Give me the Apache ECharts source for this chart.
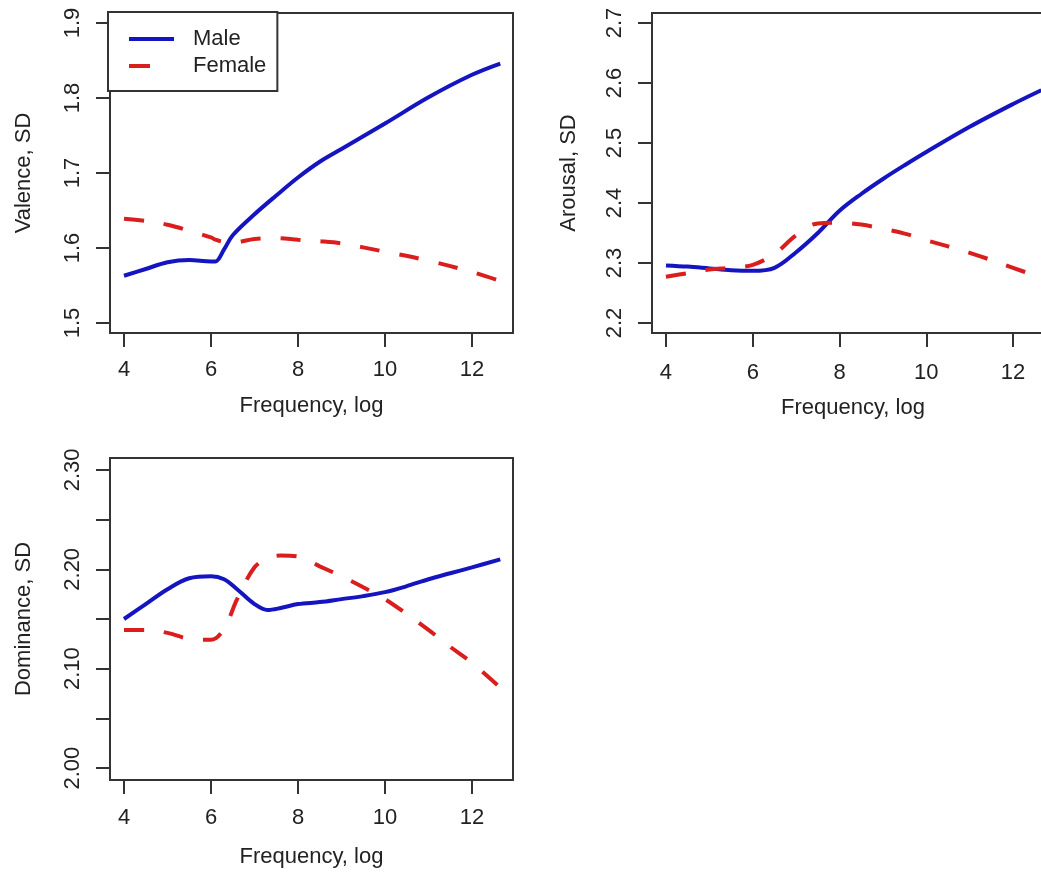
<!DOCTYPE html>
<html>
<head>
<meta charset="utf-8">
<script src="https://cdn.jsdelivr.net/npm/echarts@6/dist/echarts.min.js"></script>
<style>
  html, body { margin: 0; padding: 0; background: #fff; overflow: hidden; }
  #chart { width: 1041px; height: 875px; }
</style>
</head>
<body>
<div id="chart"></div>
<script>
// Log word frequency (shared x positions for each panel)
const valenceFreq = [4.0, 4.5, 5.0, 5.5, 6.0, 6.1, 6.3, 6.5, 7.0, 7.5, 8.0, 8.5, 9.0, 10.0, 11.0, 12.0, 12.65];
const valenceMale = [1.563, 1.572, 1.581, 1.584, 1.582, 1.582, 1.598, 1.617, 1.645, 1.670, 1.694, 1.715, 1.732, 1.766, 1.801, 1.831, 1.846];
const valenceFemale = [1.639, 1.636, 1.631, 1.623, 1.614, 1.611, 1.608, 1.607, 1.612, 1.613, 1.611, 1.609, 1.606, 1.595, 1.583, 1.568, 1.556];

const arousalFreq = [4.0, 4.5, 5.0, 5.5, 6.0, 6.5, 7.0, 7.5, 8.0, 8.5, 9.0, 9.5, 10.0, 11.0, 12.0, 12.65];
const arousalMale = [2.296, 2.294, 2.291, 2.288, 2.287, 2.292, 2.318, 2.350, 2.387, 2.415, 2.440, 2.463, 2.485, 2.527, 2.565, 2.588];
const arousalFemale = [2.277, 2.283, 2.289, 2.292, 2.297, 2.315, 2.346, 2.366, 2.367, 2.364, 2.357, 2.349, 2.338, 2.317, 2.292, 2.275];

const dominanceFreq = [4.0, 4.5, 5.0, 5.5, 6.0, 6.3, 6.6, 7.0, 7.3, 7.6, 8.0, 8.5, 9.0, 9.5, 10.0, 10.5, 11.0, 11.5, 12.0, 12.65];
const dominanceMale = [2.150, 2.165, 2.180, 2.191, 2.193, 2.190, 2.180, 2.165, 2.159, 2.161, 2.165, 2.167, 2.170, 2.173, 2.177, 2.183, 2.190, 2.196, 2.202, 2.210];
const dominanceFemale = [2.139, 2.139, 2.136, 2.130, 2.129, 2.140, 2.170, 2.202, 2.211, 2.214, 2.213, 2.203, 2.193, 2.182, 2.170, 2.155, 2.139, 2.122, 2.106, 2.081];

// Tick marks and labels
const freqTicks = [4, 6, 8, 10, 12];
const valenceTicks = [1.5, 1.6, 1.7, 1.8, 1.9];
const arousalTicks = [2.2, 2.3, 2.4, 2.5, 2.6, 2.7];
const dominanceTicks = [2.00, 2.05, 2.10, 2.15, 2.20, 2.25, 2.30];
const dominanceLabels = [2.00, 2.10, 2.20, 2.30];

const FONT = "'Liberation Sans', Arial, Helvetica, sans-serif";
const TEXT = '#222';
const FRAME = '#333';
const BLUE = '#1414c0';
const RED = '#da1d1d';

function pairs(xs, ys) { return xs.map((x, i) => [x, ys[i]]); }

function xAxis(gridIndex, labelMargin, nameGap) {
  return {
    type: 'value', gridIndex, min: 3.678, max: 12.943,
    name: 'Frequency, log', nameLocation: 'middle', nameGap,
    nameTextStyle: { fontFamily: FONT, fontSize: 22, lineHeight: 22, color: TEXT },
    axisLine: { show: false },
    axisTick: { show: true, inside: false, length: 14, lineStyle: { color: FRAME, width: 2 }, customValues: freqTicks },
    axisLabel: { show: true, margin: labelMargin, fontFamily: FONT, fontSize: 22, lineHeight: 22, color: TEXT, customValues: freqTicks },
    splitLine: { show: false }
  };
}

function yAxis(gridIndex, min, max, ticks, labels, digits, name, labelMargin, nameGap) {
  return {
    type: 'value', gridIndex, min, max,
    name, nameLocation: 'middle', nameGap, nameRotate: 90,
    nameTextStyle: { fontFamily: FONT, fontSize: 22, lineHeight: 22, color: TEXT },
    axisLine: { show: false },
    axisTick: { show: true, inside: false, length: 14, lineStyle: { color: FRAME, width: 2 }, customValues: ticks },
    axisLabel: {
      show: true, rotate: 90, margin: labelMargin, fontFamily: FONT, fontSize: 22, lineHeight: 22, color: TEXT,
      customValues: labels, formatter: v => Number(v).toFixed(digits)
    },
    splitLine: { show: false }
  };
}

function line(name, idx, data, color, dashed) {
  return {
    name, type: 'line', xAxisIndex: idx, yAxisIndex: idx,
    data, smooth: 0.35, symbol: 'none', clip: true,
    lineStyle: { color, width: 4, type: dashed ? [20, 20] : 'solid', cap: 'butt' },
    itemStyle: { color },
    emphasis: { disabled: true }
  };
}

const gridBase = { show: true, borderColor: FRAME, borderWidth: 2, backgroundColor: 'transparent', outerBoundsMode: 'none', containLabel: false };

const option = {
  backgroundColor: '#fff',
  animation: false,
  grid: [
    Object.assign({ left: 110, top: 13, width: 403, height: 320 }, gridBase),
    Object.assign({ left: 652, top: 13, width: 402, height: 320 }, gridBase),
    Object.assign({ left: 110, top: 458, width: 403, height: 322 }, gridBase)
  ],
  xAxis: [
    xAxis(0, 26, 62),
    xAxis(1, 29, 64),
    xAxis(2, 27, 66)
  ],
  yAxis: [
    yAxis(0, 1.4866, 1.9134, valenceTicks, valenceTicks, 1, 'Valence, SD', 26, 75),
    yAxis(1, 2.1833, 2.7167, arousalTicks, arousalTicks, 1, 'Arousal, SD', 26, 72),
    yAxis(2, 1.988, 2.312, dominanceTicks, dominanceLabels, 2, 'Dominance, SD', 26, 75)
  ],
  legend: {
    orient: 'vertical', left: 108, top: 12,
    padding: [16, 11, 14, 19], itemGap: 5, itemWidth: 45, itemHeight: 14,
    borderColor: FRAME, borderWidth: 2, borderRadius: 0, backgroundColor: '#fff',
    selectedMode: false,
    textStyle: { fontFamily: FONT, fontSize: 22, lineHeight: 22, color: TEXT, padding: [0, 0, 0, 14] },
    data: [
      { name: 'Male', itemStyle: { opacity: 0 }, lineStyle: { width: 4, color: BLUE } },
      { name: 'Female', itemStyle: { opacity: 0 }, lineStyle: { width: 4, color: RED, type: [21, 40] } }
    ]
  },
  series: [
    line('Male', 0, pairs(valenceFreq, valenceMale), BLUE, false),
    line('Female', 0, pairs(valenceFreq, valenceFemale), RED, true),
    line('Male', 1, pairs(arousalFreq, arousalMale), BLUE, false),
    line('Female', 1, pairs(arousalFreq, arousalFemale), RED, true),
    line('Male', 2, pairs(dominanceFreq, dominanceMale), BLUE, false),
    line('Female', 2, pairs(dominanceFreq, dominanceFemale), RED, true)
  ]
};

const chart = echarts.init(document.getElementById('chart'), null, { renderer: 'canvas' });
chart.setOption(option);
</script>
</body>
</html>
